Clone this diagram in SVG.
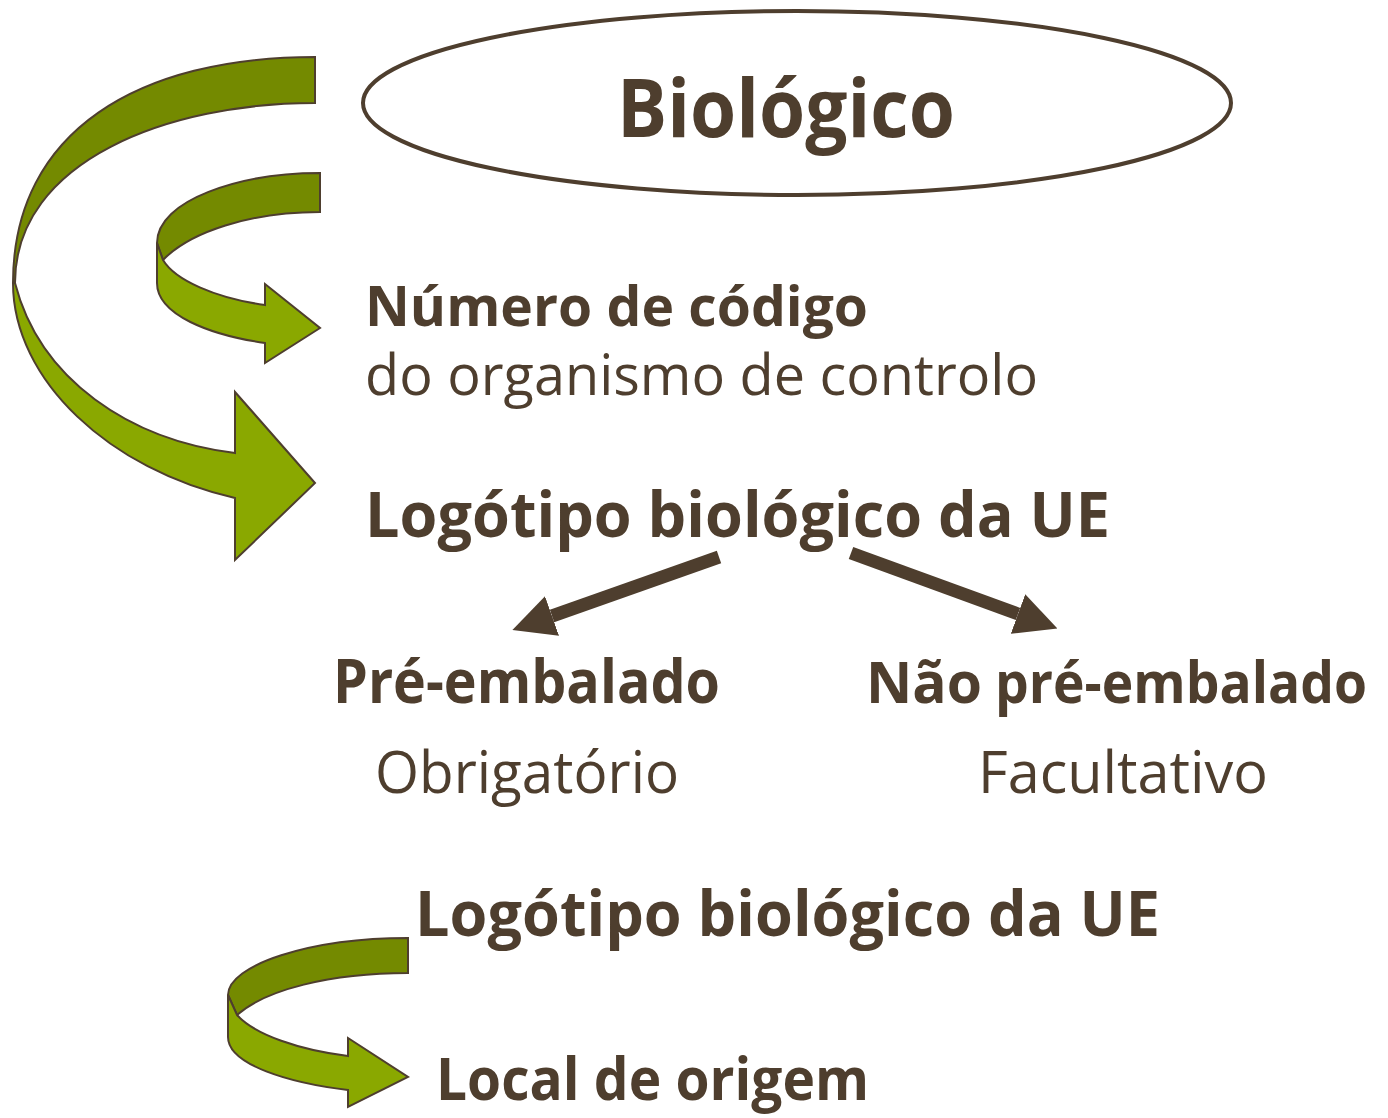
<svg xmlns="http://www.w3.org/2000/svg" width="1388" height="1118" viewBox="0 0 1388 1118">
<style>
.t{fill:#4E3E2E;font-family:"Open Sans","Noto Sans","DejaVu Sans",sans-serif}
.b{font-weight:bold}
.dk{fill:#748A00;stroke:#4E3E2E;stroke-width:2;stroke-linejoin:miter}
.lt{fill:#8AA800;stroke:#4E3E2E;stroke-width:2;stroke-linejoin:miter}
.ar{stroke:#4E3E2E;stroke-width:13;fill:none}
</style>
<defs>
<marker id="ah" viewBox="0 0 10 10" refX="0" refY="5" markerUnits="userSpaceOnUse" markerWidth="42" markerHeight="44" orient="auto">
<path d="M0,0 L10,5 L0,10 Z" fill="#4E3E2E"/>
</marker>
</defs>
<rect width="1388" height="1118" fill="#FFFFFF"/>
<g id="biologico">
<ellipse cx="797" cy="103" rx="434" ry="92" fill="#FFFFFF" stroke="#4E3E2E" stroke-width="4"/>
<text class="t b" x="786" y="137" font-size="80" text-anchor="middle" textLength="338" lengthAdjust="spacingAndGlyphs">Biológico</text>
</g>
<g id="curved-arrows">
<path class="dk" d="M315,57 C140,57 13,130 13,283 L15,283 C15,160 170,103 315,103 Z"/>
<path class="lt" d="M13,283 C13,380 110,470 235,498 L235,560 L315,483 L235,392 L235,453 C130,440 40,380 15,283 Z"/>
<path class="dk" d="M320,173 C240,173 157,200 157,243 L163,260 C190,232 250,212 320,212 Z"/>
<path class="lt" d="M157,243 L157,283 C157,315 210,335 265,343 L265,363 L320,328 L265,284 L265,305 C215,298 175,280 163,260 Z"/>
<path class="dk" d="M408,938 C310,938 228,965 228,995 L237,1015 C265,990 330,973 408,973 Z"/>
<path class="lt" d="M228,995 L228,1037 C228,1065 290,1083 348,1090 L348,1107 L408,1077 L348,1038 L348,1056 C300,1050 255,1035 237,1015 Z"/>
</g>
<g id="numero">
<text class="t b" x="365" y="326" font-size="56" textLength="503" lengthAdjust="spacingAndGlyphs">Número de código</text>
<text class="t" x="365" y="395" font-size="56" textLength="673" lengthAdjust="spacingAndGlyphs">do organismo de controlo</text>
</g>
<g id="logotipo1">
<text class="t b" x="365" y="537" font-size="63" textLength="745" lengthAdjust="spacingAndGlyphs">Logótipo biológico da UE</text>
</g>
<g id="connectors">
<line class="ar" x1="719" y1="557" x2="552" y2="616" marker-end="url(#ah)"/>
<line class="ar" x1="851" y1="553" x2="1018" y2="614" marker-end="url(#ah)"/>
</g>
<g id="pre-embalado">
<text class="t b" x="333" y="703" font-size="61" textLength="387" lengthAdjust="spacingAndGlyphs">Pré-embalado</text>
<text class="t" x="375" y="793" font-size="59" textLength="304" lengthAdjust="spacingAndGlyphs">Obrigatório</text>
</g>
<g id="nao-pre-embalado">
<text class="t b" x="866" y="703" font-size="58" textLength="116" lengthAdjust="spacingAndGlyphs">Não</text>
<text class="t b" x="1367" y="703" font-size="58" text-anchor="end" textLength="372" lengthAdjust="spacingAndGlyphs">pré-embalado</text>
<text class="t" x="978" y="793" font-size="59" textLength="290" lengthAdjust="spacingAndGlyphs">Facultativo</text>
</g>
<g id="logotipo2">
<text class="t b" x="415" y="936" font-size="63" textLength="745" lengthAdjust="spacingAndGlyphs">Logótipo biológico da UE</text>
</g>
<g id="local">
<text class="t b" x="436" y="1100" font-size="59" textLength="433" lengthAdjust="spacingAndGlyphs">Local de origem</text>
</g>
</svg>
